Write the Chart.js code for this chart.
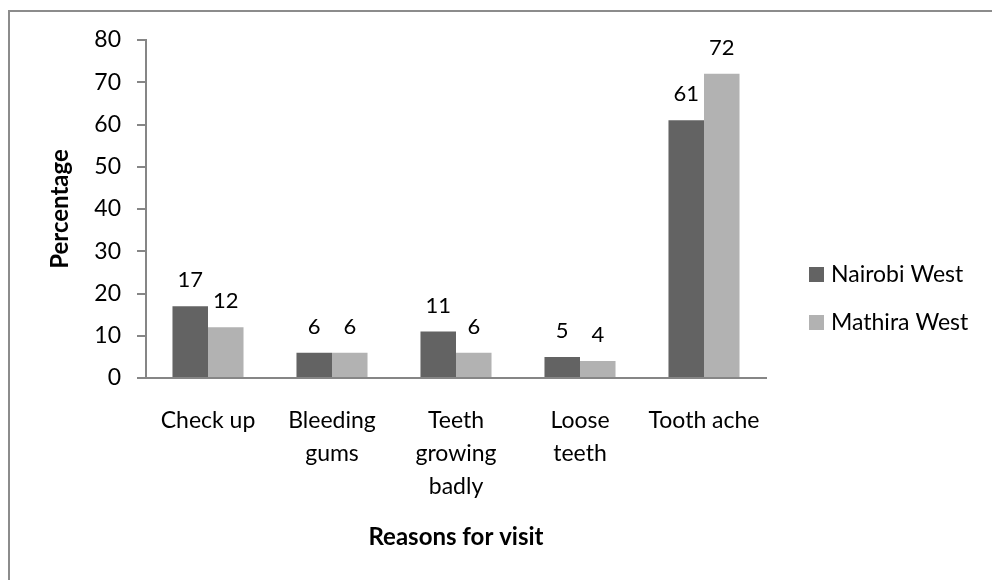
<!DOCTYPE html>
<html>
<head>
<meta charset="utf-8">
<script src="https://cdn.jsdelivr.net/npm/chart.js@4.4.1/dist/chart.umd.min.js"></script>
<style>
    html, body { margin: 0; padding: 0; background: #ffffff; }
    #wrap { position: relative; width: 992px; height: 580px; overflow: hidden; }
    #frame {
        position: absolute; left: 8px; top: 10px; width: 1000px; height: 600px;
        border-top: 2px solid #8c8c8c; border-left: 2px solid #8c8c8c;
        box-sizing: border-box; pointer-events: none;
    }
</style>
</head>
<body>
<div id="wrap">
    <canvas id="visitChart" width="992" height="580"></canvas>
    <div id="frame"></div>
</div>
<script>
// Reasons for dental visit - grouped bar chart

const categories = ['Check up', ['Bleeding', 'gums'], ['Teeth', 'growing', 'badly'], ['Loose', 'teeth'], 'Tooth ache'];
const nairobiWest = [17, 6, 11, 5, 61];
const mathiraWest = [12, 6, 6, 4, 72];
const seriesNames = ['Nairobi West', 'Mathira West'];
const yTicks = [0, 10, 20, 30, 40, 50, 60, 70, 80];

const FONT = "Lato, 'Open Sans', sans-serif";
const AXIS_GREY = '#868686';

// values written above each bar
const barLabels = {
    id: 'barLabels',
    afterDatasetsDraw(chart) {
        const ctx = chart.ctx;
        ctx.save();
        ctx.font = '22px ' + FONT;
        ctx.fillStyle = '#000000';
        ctx.textAlign = 'center';
        ctx.textBaseline = 'middle';
        chart.data.datasets.forEach(function (ds, i) {
            chart.getDatasetMeta(i).data.forEach(function (bar, j) {
                ctx.fillText(String(ds.data[j]), bar.x, bar.y - 26);
            });
        });
        ctx.restore();
    }
};

// legend to the right of the plot, like the Excel one
const sideLegend = {
    id: 'sideLegend',
    afterDraw(chart) {
        const ctx = chart.ctx;
        const x = chart.chartArea.right + 43;
        const rows = [274, 322];
        ctx.save();
        ctx.font = '23px ' + FONT;
        ctx.textBaseline = 'middle';
        chart.data.datasets.forEach(function (ds, i) {
            ctx.fillStyle = ds.backgroundColor;
            ctx.fillRect(x, rows[i] - 7, 15, 15);
            ctx.fillStyle = '#000000';
            ctx.fillText(ds.label, x + 22, rows[i] + 1);
        });
        ctx.restore();
    }
};

const ctx = document.getElementById('visitChart').getContext('2d');

new Chart(ctx, {
    type: 'bar',
    data: {
        labels: categories,
        datasets: [{
            label: seriesNames[0],
            data: nairobiWest,
            backgroundColor: '#636363',
            borderWidth: 0,
            categoryPercentage: 0.573,
            barPercentage: 1.0
        }, {
            label: seriesNames[1],
            data: mathiraWest,
            backgroundColor: '#b2b2b2',
            borderWidth: 0,
            categoryPercentage: 0.573,
            barPercentage: 1.0
        }]
    },
    plugins: [barLabels, sideLegend],
    options: {
        responsive: false,
        animation: false,
        events: [],
        layout: {
            padding: { left: 20, top: 40, right: 226, bottom: 10 }
        },
        plugins: {
            legend: { display: false },
            tooltip: { enabled: false }
        },
        scales: {
            x: {
                grid: { display: false, drawTicks: false },
                border: { display: true, color: AXIS_GREY, width: 2 },
                ticks: {
                    color: '#000000',
                    padding: 26,
                    maxRotation: 0,
                    autoSkip: false,
                    font: { size: 23, family: FONT, lineHeight: 1.43 }
                },
                title: {
                    display: true,
                    text: 'Reasons for visit',
                    color: '#000000',
                    padding: { top: 0, bottom: 18 },
                    font: { size: 24, weight: 'bold', family: FONT }
                },
                afterFit: function (scale) {
                    scale.height = 192;
                }
            },
            y: {
                min: 0,
                max: 80,
                afterBuildTicks: function (scale) {
                    scale.ticks = yTicks.map(function (v) { return { value: v }; });
                },
                grid: {
                    drawOnChartArea: false,
                    drawTicks: true,
                    tickLength: 9,
                    color: AXIS_GREY,
                    lineWidth: 2
                },
                border: { display: true, color: AXIS_GREY, width: 2 },
                ticks: {
                    color: '#000000',
                    padding: 16,
                    font: { size: 23, family: FONT }
                },
                title: {
                    display: true,
                    text: 'Percentage',
                    color: '#000000',
                    padding: { top: 26, bottom: 0 },
                    font: { size: 24, weight: 'bold', family: FONT }
                },
                afterFit: function (scale) {
                    scale.width = 126;
                }
            }
        }
    }
});
</script>
</body>
</html>
